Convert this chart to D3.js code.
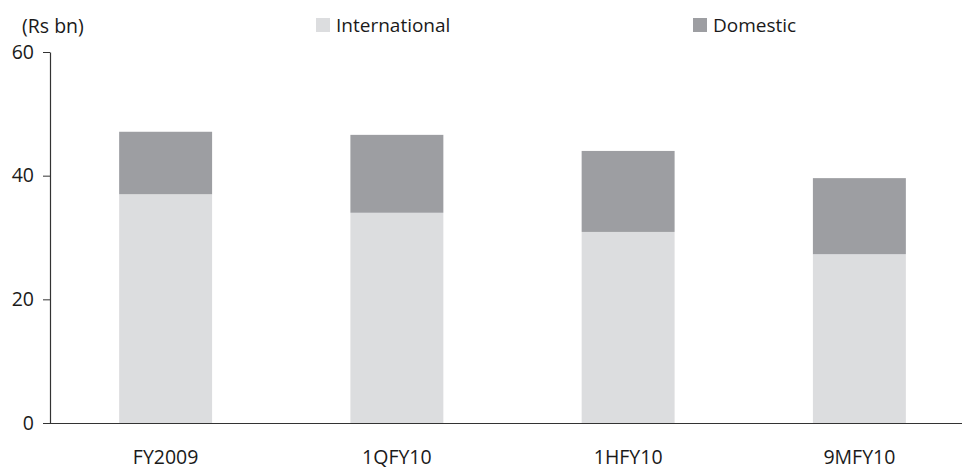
<!DOCTYPE html>
<html>
<head>
<meta charset="utf-8">
<script src="https://cdn.jsdelivr.net/npm/d3@7"></script>
<style>
  html, body { margin: 0; padding: 0; background: #fff; }
  svg { display: block; }
  text { font-family: "Open Sans", "Noto Sans", sans-serif; fill: #1a1a1a; }
</style>
</head>
<body>
<svg id="chart" width="962" height="470"></svg>
<script>
const categories = ["FY2009", "1QFY10", "1HFY10", "9MFY10"];
const international = [37.0, 34.0, 30.9, 27.3];
const domestic = [10.1, 12.6, 13.1, 12.3];
const yTicks = [0, 20, 40, 60];
const seriesNames = ["International", "Domestic"];
const seriesColors = ["#dcdddf", "#9d9ea2"];
const unitLabel = "(Rs bn)";

const svg = d3.select("#chart");
const W = 962, H = 470;
const mLeft = 50, mTop = 52, mBottom = 423;
const FS = 19.5;

const x = d3.scaleBand().domain(categories).range([mLeft, 975]).paddingInner(0.598).paddingOuter(0.299);
const y = d3.scaleLinear().domain([0, 60]).range([mBottom, mTop]);

const rows = categories.map((c, i) => ({ cat: c, International: international[i], Domestic: domestic[i] }));
const stack = d3.stack().keys(seriesNames)(rows);

svg.append("g").selectAll("g").data(stack).join("g")
  .attr("fill", (d, i) => seriesColors[i])
  .selectAll("rect").data(d => d).join("rect")
  .attr("x", d => x(d.data.cat))
  .attr("width", x.bandwidth())
  .attr("y", d => y(d[1]))
  .attr("height", d => y(d[0]) - y(d[1]));

// y axis
const yAxis = d3.axisLeft(y).tickValues(yTicks).tickSize(7).tickPadding(9).tickSizeOuter(0);
const gy = svg.append("g").attr("transform", `translate(${mLeft},0)`).call(yAxis);
gy.select(".domain").attr("stroke", "#333").attr("stroke-width", 1.2);
gy.selectAll(".tick line").attr("stroke", "#333");
gy.selectAll(".tick text").attr("font-size", FS).attr("fill", "#1a1a1a")
  .style("font-family", '"Open Sans", sans-serif');

// x axis baseline
const xAxis = d3.axisBottom(x).tickSize(0).tickPadding(27);
const gx = svg.append("g").attr("transform", `translate(0,${mBottom})`).call(xAxis);
gx.select(".domain").attr("d", `M${mLeft},0.5H${W}`).attr("stroke", "#333").attr("stroke-width", 1.2);
gx.selectAll(".tick text").attr("font-size", FS).attr("fill", "#1a1a1a")
  .style("font-family", '"Open Sans", sans-serif');

// unit label
svg.append("text").attr("x", 22).attr("y", 32.5).attr("font-size", FS).text(unitLabel);

// legend
const legendX = [316, 693];
const lg = svg.append("g").selectAll("g").data(seriesNames).join("g")
  .attr("transform", (d, i) => `translate(${legendX[i]},18)`);
lg.append("rect").attr("width", 14).attr("height", 14).attr("fill", (d, i) => seriesColors[i]);
lg.append("text").attr("x", 20).attr("y", 13.8).attr("font-size", 19).text(d => d);
</script>
</body>
</html>
